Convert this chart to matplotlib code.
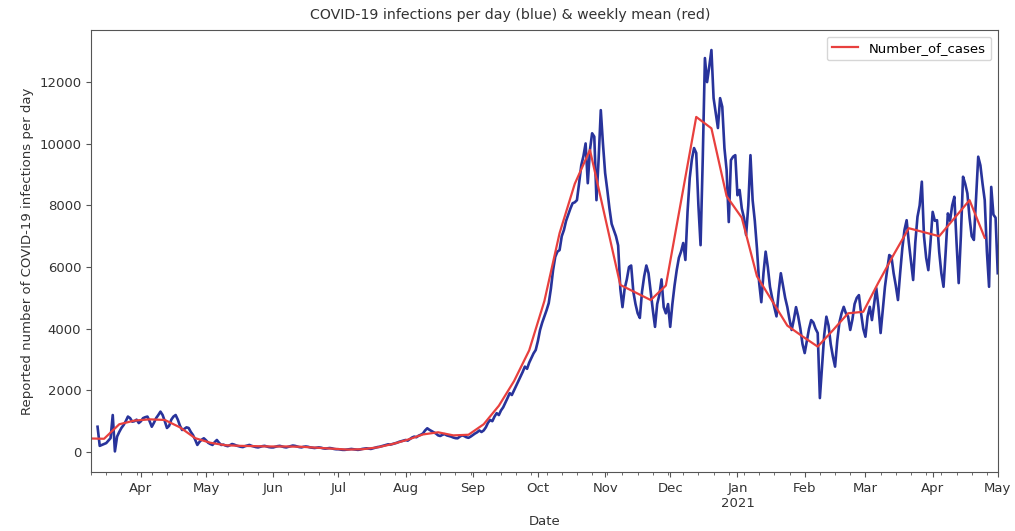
import numpy as np
import pandas as pd
import matplotlib
matplotlib.use("Agg")
import matplotlib.pyplot as plt
import matplotlib.dates as mdates

# Daily reported infections, one list per month (first list starts on 12 March 2020)
mar_2020 = [820, 200, 230, 260, 290, 370, 450, 1200, 20, 500, 650, 780, 875, 1000, 1150,
            1100, 985, 1000, 1050, 940]
apr_2020 = [1000, 1100, 1130, 1150, 1000, 820, 950, 1100, 1200, 1310, 1200, 1000, 780, 850,
            1050, 1150, 1200, 1050, 850, 715, 750, 800, 780, 650, 550, 400, 230, 330, 400, 445]
may_2020 = [380, 300, 260, 230, 320, 390, 300, 230, 240, 210, 190, 220, 260, 240, 210, 190,
            170, 160, 190, 210, 230, 200, 180, 160, 150, 170, 190, 200, 180, 160, 150]
jun_2020 = [150, 170, 190, 200, 180, 160, 150, 170, 190, 210, 200, 180, 160, 150, 170, 180,
            170, 150, 140, 130, 140, 150, 140, 120, 110, 120, 130, 120, 100, 90]
jul_2020 = [90, 80, 70, 70, 80, 90, 100, 90, 80, 70, 80, 100, 110, 120, 110, 100, 120, 140,
            160, 170, 190, 210, 230, 250, 240, 260, 280, 300, 330, 350, 370]
aug_2020 = [390, 370, 420, 470, 500, 480, 530, 560, 600, 700, 770, 720, 680, 640, 600, 540,
            520, 560, 580, 540, 520, 500, 470, 450, 445, 500, 540, 520, 480, 460, 500]
sep_2020 = [550, 600, 640, 700, 650, 700, 800, 950, 1040, 1000, 1150, 1260, 1200, 1350, 1450,
            1600, 1750, 1910, 1850, 2000, 2150, 2300, 2450, 2600, 2770, 2700, 2900, 3050,
            3200, 3310]
oct_2020 = [3600, 3960, 4200, 4400, 4600, 4830, 5300, 5900, 6330, 6500, 6550, 7000, 7200,
            7500, 7700, 7900, 8070, 8100, 8170, 8720, 9300, 9600, 10010, 8720, 9800, 10340,
            10230, 8170, 9500, 11090, 10000]
nov_2020 = [9050, 8500, 7900, 7400, 7200, 7000, 6700, 5300, 4700, 5300, 5600, 6000, 6050,
            5200, 4800, 4500, 4350, 5200, 5700, 6050, 5800, 5200, 4600, 4060, 4800, 5100,
            5600, 4700, 4500, 4800]
dec_2020 = [4060, 4800, 5400, 5900, 6300, 6500, 6780, 6230, 7800, 8890, 9500, 9860, 9700,
            8000, 6710, 9500, 12780, 12000, 12500, 13040, 11480, 11000, 10510, 11480, 11200,
            9860, 9150, 7460, 9470, 9580, 9630]
jan_2021 = [8330, 8500, 7900, 7600, 7040, 8000, 9630, 8170, 7500, 6600, 5500, 4860, 5800,
            6500, 6000, 5360, 5000, 4700, 4400, 5200, 5800, 5400, 5000, 4700, 4300, 3960,
            4300, 4700, 4400, 4000, 3500]
feb_2021 = [3210, 3600, 4000, 4280, 4200, 4000, 3860, 1750, 2800, 3800, 4390, 4100, 3500,
            3100, 2770, 3600, 4200, 4500, 4710, 4500, 4400, 3960, 4300, 4800, 5000, 5090,
            4500, 4000]
mar_2021 = [3740, 4400, 4710, 4280, 4800, 5320, 4700, 3860, 4600, 5360, 5900, 6390, 6330,
            5800, 5400, 4930, 5800, 6600, 7200, 7520, 6800, 6200, 5580, 6800, 7630, 8000,
            8770, 7000, 6300, 5900, 6800]
apr_2021 = [7790, 7500, 7520, 6500, 5800, 5360, 6500, 7740, 7500, 8000, 8280, 6800, 5480,
            7000, 8930, 8700, 8390, 7600, 7000, 6880, 8200, 9580, 9300, 8700, 8170, 6500,
            5360, 8600, 7700, 7600]
may_2021 = [5800]

month_starts = ["2020-03-12", "2020-04-01", "2020-05-01", "2020-06-01", "2020-07-01",
                "2020-08-01", "2020-09-01", "2020-10-01", "2020-11-01", "2020-12-01",
                "2021-01-01", "2021-02-01", "2021-03-01", "2021-04-01", "2021-05-01"]
month_values = [mar_2020, apr_2020, may_2020, jun_2020, jul_2020, aug_2020, sep_2020,
                oct_2020, nov_2020, dec_2020, jan_2021, feb_2021, mar_2021, apr_2021, may_2021]

# Weekly mean (Sunday-labelled weeks)
week_dates = ["2020-03-08", "2020-03-15", "2020-03-22", "2020-03-29", "2020-04-05",
              "2020-04-12", "2020-04-19", "2020-04-26", "2020-05-03", "2020-05-10",
              "2020-05-17", "2020-05-24", "2020-05-31", "2020-06-07", "2020-06-14",
              "2020-06-21", "2020-06-28", "2020-07-05", "2020-07-12", "2020-07-19",
              "2020-07-26", "2020-08-02", "2020-08-09", "2020-08-16", "2020-08-23",
              "2020-08-30", "2020-09-06", "2020-09-13", "2020-09-20", "2020-09-27",
              "2020-10-04", "2020-10-11", "2020-10-18", "2020-10-25", "2020-11-08",
              "2020-11-22", "2020-11-29", "2020-12-13", "2020-12-20", "2020-12-27",
              "2021-01-03", "2021-01-10", "2021-01-17", "2021-01-24", "2021-01-31",
              "2021-02-07", "2021-02-14", "2021-02-21", "2021-02-28", "2021-03-07",
              "2021-03-14", "2021-03-21", "2021-04-04", "2021-04-18", "2021-04-25"]
week_means = [440, 430, 900, 1020, 1060, 1040, 800, 450, 300, 220,
              200, 190, 180, 180, 170,
              140, 110, 80, 90, 150,
              260, 400, 570, 640, 540,
              560, 900, 1500, 2300, 3300,
              4900, 7100, 8700, 9800, 5420,
              4930, 5400, 10870, 10500, 8300,
              7600, 5700, 4900, 4100, 3750,
              3420, 3950, 4500, 4550, 5500,
              6400, 7260, 7000, 8170, 6950]

daily = pd.concat([
    pd.Series(vals, index=pd.date_range(start, periods=len(vals), freq="D"))
    for start, vals in zip(month_starts, month_values)
])
weekly = pd.Series(week_means, index=pd.to_datetime(week_dates), name="Number_of_cases")

fig = plt.figure(figsize=(10.15, 5.31), dpi=100)
ax = fig.add_axes([0.0897, 0.111, 0.8933, 0.8325])

ax.plot(daily.index, daily.values, color="#28339b", lw=1.9, label="_nolegend_")
ax.plot(weekly.index, weekly.values, color="#e8403e", lw=1.6, label="Number_of_cases")

ax.set_xlim(pd.Timestamp("2020-03-09"), pd.Timestamp("2021-05-01"))
ax.set_ylim(-650, 13690)
ax.set_yticks([0, 2000, 4000, 6000, 8000, 10000, 12000])

ax.xaxis.set_major_locator(mdates.MonthLocator())
ax.xaxis.set_minor_locator(mdates.WeekdayLocator(byweekday=mdates.MO))


def month_label(x, pos=None):
    d = mdates.num2date(x)
    if d.month == 1:
        return d.strftime("%b\n%Y")
    return d.strftime("%b")


ax.xaxis.set_major_formatter(plt.FuncFormatter(month_label))

text_color = "#333333"
ax.tick_params(axis="both", which="major", labelsize=9.5, colors="#555555",
               labelcolor=text_color, length=3.5)
ax.tick_params(axis="x", which="minor", length=2, colors="#555555")
for s in ax.spines.values():
    s.set_color("#555555")

# Title centred over the figure rather than the axes
fig.text(0.503, 0.972, "COVID-19 infections per day (blue) & weekly mean (red)",
         ha="center", va="center", fontsize=10.2, color=text_color)
ax.set_xlabel("Date", fontsize=9.5, color=text_color)
ax.set_ylabel("Reported number of COVID-19 infections per day", fontsize=9.5, color=text_color)
ax.legend(loc="upper right", fontsize=9.5)

fig.savefig("out.png", dpi=100)
